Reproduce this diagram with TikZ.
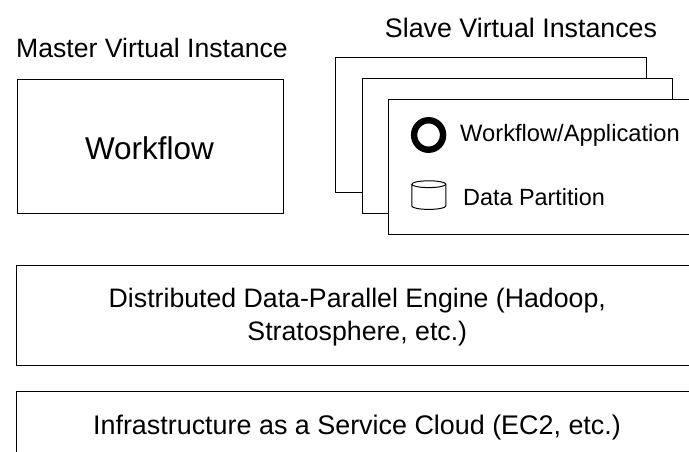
\documentclass[tikz,border=0pt]{standalone}
\usepackage{fontspec}
\usetikzlibrary{shapes.geometric}
\setmainfont{Liberation Sans}
\begin{document}
\begin{tikzpicture}[x=1pt,y=-1pt,
  boxstyle/.style={draw=black,fill=white,line width=1.3pt,rectangle,inner sep=0pt,anchor=north west},
  lab/.style={inner sep=0pt,anchor=center,align=center,text=black}]
\clip (0,0) rectangle (689,452);
\node[boxstyle,minimum width=266pt,minimum height=134pt] (master) at (17,79) {};
\node[boxstyle,minimum width=311pt,minimum height=135pt] (slaveA) at (334.5,57) {};
\node[boxstyle,minimum width=310pt,minimum height=135pt] (slaveB) at (361.5,78) {};
\node[boxstyle,minimum width=330pt,minimum height=135pt] (slaveC) at (387.5,99) {};
\node[boxstyle,minimum width=700pt,minimum height=100pt] (engine) at (15.5,264.5) {};
\node[boxstyle,minimum width=700pt,minimum height=100pt] (cloud) at (15.5,390.5) {};
\node[lab,font=\fontsize{26.6pt}{30pt}\selectfont] (tmaster) at (152,47.5) {Master Virtual Instance};
\node[lab,font=\fontsize{26.8pt}{30pt}\selectfont] (tslave) at (521,27.5) {Slave Virtual Instances};
\node[lab,font=\fontsize{31.5pt}{38pt}\selectfont] (twork) at (149.5,148) {Workflow};
\node[draw=black,line width=6.4pt,ellipse,minimum width=29pt,minimum height=29.5pt,inner sep=0pt] (wfring) at (428.6,135) {};
\node[lab,font=\fontsize{23.7pt}{27pt}\selectfont] (twf) at (570,135) {Workflow/Application};
\draw[line width=1pt,fill=white] (411.8,184.2) arc[start angle=180,end angle=360,x radius=17,y radius=3.4]
  -- (445.8,206) arc[start angle=0,end angle=180,x radius=17,y radius=3.4] -- cycle;
\draw[line width=1pt] (411.8,184.2) arc[start angle=180,end angle=0,x radius=17,y radius=3.4];
\node[lab,font=\fontsize{23.4pt}{27pt}\selectfont] (tdata) at (534,197) {Data Partition};
\node[lab,font=\fontsize{26.7pt}{32.5pt}\selectfont] (tengine) at (357.3,317) {Distributed Data-Parallel Engine (Hadoop,\\Stratosphere, etc.)};
\node[lab,font=\fontsize{26.9pt}{33pt}\selectfont] (tcloud) at (357,427.5) {Infrastructure as a Service Cloud (EC2, etc.)};
\end{tikzpicture}
\end{document}
